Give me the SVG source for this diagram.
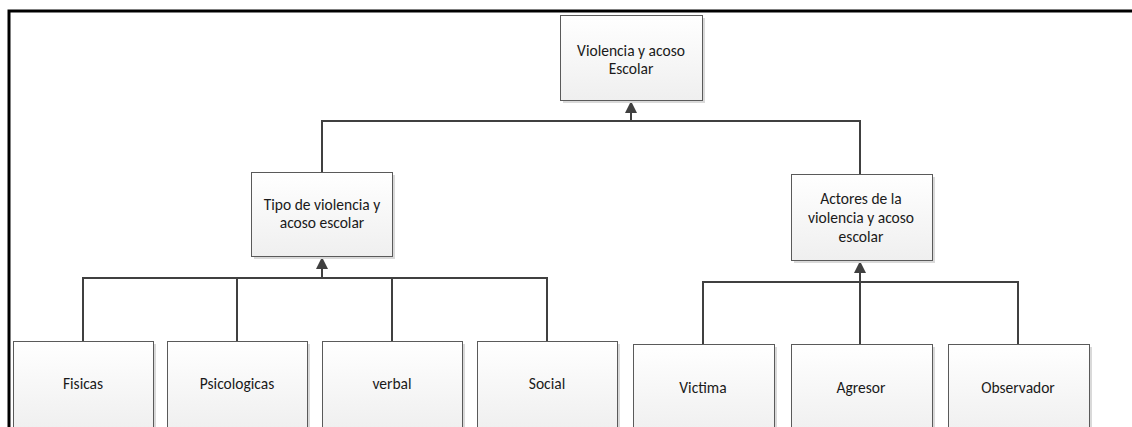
<svg xmlns="http://www.w3.org/2000/svg" width="1132" height="427" viewBox="0 0 1132 427">
<style>
.box{fill:url(#g);stroke:#5a5a5a;stroke-width:1}
.sh{fill:#d9d9d9}
.t{font-family:Carlito,Calibri,"Liberation Sans",sans-serif;font-size:15.5px;fill:#1a1a1a;text-anchor:middle}
.c{fill:none;stroke:#404040;stroke-width:2}
</style>
<defs>
<linearGradient id="g" x1="0" y1="0" x2="0" y2="1">
<stop offset="0" stop-color="#ffffff"/>
<stop offset="1" stop-color="#efefef"/>
</linearGradient>
<marker id="a" viewBox="0 0 10 10" refX="10" refY="5" markerWidth="6" markerHeight="6" markerUnits="strokeWidth" orient="auto">
<path d="M0,0 L10,5 L0,10 z" fill="#404040"/>
</marker>
</defs>
<rect width="1132" height="427" fill="#fff"/>
<path d="M9,427 V11 H1132" fill="none" stroke="#000" stroke-width="3"/>
<g id="connectors">
<path class="c" d="M322,172 V121 H860 V174"/>
<path class="c" d="M631,121 V101" marker-end="url(#a)"/>
<path class="c" d="M83,341 V278 H547 V341"/>
<path class="c" d="M237,341 V278"/>
<path class="c" d="M392,341 V278"/>
<path class="c" d="M322,278 V257" marker-end="url(#a)"/>
<path class="c" d="M703,344 V282 H1018 V344"/>
<path class="c" d="M860,344 V261" marker-end="url(#a)"/>
</g>
<g id="n-root"><rect class="sh" x="563" y="18" width="142" height="85"/><rect class="box" x="560.5" y="15.5" width="142" height="85"/><text class="t" x="631" y="56">Violencia y acoso</text><text class="t" x="631" y="74">Escolar</text></g>
<g id="n-tipo"><rect class="sh" x="254" y="175" width="141" height="84"/><rect class="box" x="251.5" y="172.5" width="141" height="84"/><text class="t" x="322" y="210">Tipo de violencia y</text><text class="t" x="322" y="228">acoso escolar</text></g>
<g id="n-actores"><rect class="sh" x="794" y="177" width="141" height="86"/><rect class="box" x="791.5" y="174.5" width="141" height="86"/><text class="t" x="861" y="204">Actores de la</text><text class="t" x="861" y="223">violencia y acoso</text><text class="t" x="861" y="242">escolar</text></g>
<g id="n-fisicas"><rect class="sh" x="16" y="344" width="140" height="90"/><rect class="box" x="13.5" y="341.5" width="140" height="90"/><text class="t" x="83" y="389">Fisicas</text></g>
<g id="n-psico"><rect class="sh" x="170" y="344" width="140" height="90"/><rect class="box" x="167.5" y="341.5" width="140" height="90"/><text class="t" x="237" y="389">Psicologicas</text></g>
<g id="n-verbal"><rect class="sh" x="325" y="344" width="140" height="90"/><rect class="box" x="322.5" y="341.5" width="140" height="90"/><text class="t" x="392" y="389">verbal</text></g>
<g id="n-social"><rect class="sh" x="480" y="344" width="140" height="90"/><rect class="box" x="477.5" y="341.5" width="140" height="90"/><text class="t" x="547" y="389">Social</text></g>
<g id="n-victima"><rect class="sh" x="636" y="347" width="141" height="90"/><rect class="box" x="633.5" y="344.5" width="141" height="90"/><text class="t" x="703" y="393">Victima</text></g>
<g id="n-agresor"><rect class="sh" x="794" y="347" width="141" height="90"/><rect class="box" x="791.5" y="344.5" width="141" height="90"/><text class="t" x="861" y="393">Agresor</text></g>
<g id="n-obs"><rect class="sh" x="951" y="347" width="141" height="90"/><rect class="box" x="948.5" y="344.5" width="141" height="90"/><text class="t" x="1018" y="393">Observador</text></g>
</svg>
